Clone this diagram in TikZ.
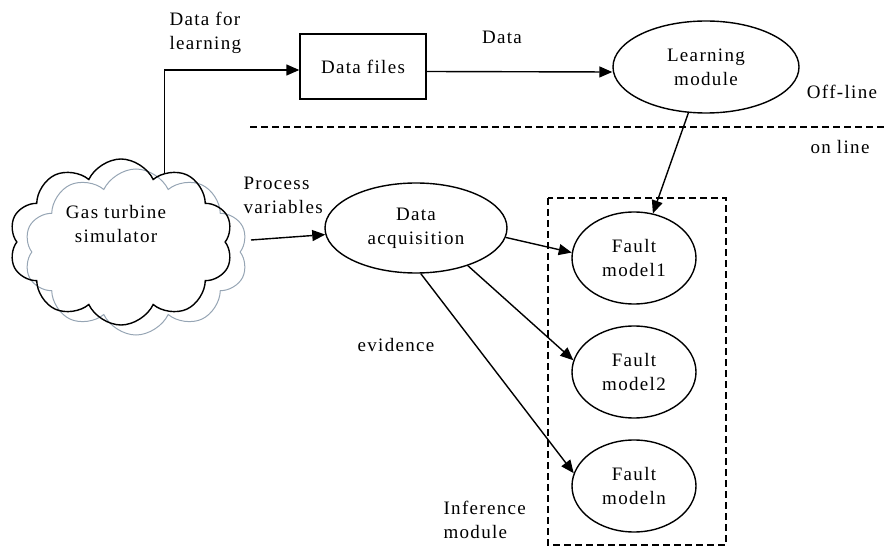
\documentclass[tikz,border=0pt]{standalone}
\usepackage{fontspec}
\setmainfont{Liberation Serif}[LetterSpace=7]
\usetikzlibrary{shapes.geometric,shapes.symbols,arrows.meta}
\definecolor{cloudgrey}{RGB}{150,165,180}

\begin{document}
\begin{tikzpicture}[x=1pt,y=-1pt,
  every node/.style={font=\fontsize{19}{24}\selectfont, align=center},
  oval/.style={ellipse, draw, line width=1.4pt, inner sep=0pt},
  puff/.style={cloud, cloud puffs=10, cloud puff arc=130, aspect=1.5, inner sep=0pt,
    minimum width=224pt, minimum height=166pt},
  arr/.style={-{Triangle[length=13pt,width=11pt]}, line width=1.4pt},
  dash line/.style={dash pattern=on 7pt off 4pt, line width=1.2pt}]
  \useasboundingbox (0,0) rectangle (887,548);

  % simulator
  \node[puff, draw=cloudgrey, line width=1pt] (simback) at (136,252) {};
  \node[puff, draw, line width=1.4pt] (sim) at (121,242) {};
  \node (simtext) at (116,224) {Gas turbine\\simulator};

  % off-line part
  \node[draw, line width=1.4pt, minimum width=126pt, minimum height=65pt] (files) at (363,66.5) {Data files};
  \node[oval, minimum width=186pt, minimum height=92pt] (learn) at (706,67) {Learning\\module};

  % on-line part
  \node[oval, minimum width=182pt, minimum height=90pt] (acq) at (416,228) {Data\\acquisition};
  \node[oval, minimum width=124pt, minimum height=92pt] (fm1) at (634,258) {Fault\\model1};
  \node[oval, minimum width=124pt, minimum height=92pt] (fm2) at (634,372) {Fault\\model2};
  \node[oval, minimum width=124pt, minimum height=92pt] (fmn) at (634,486) {Fault\\modeln};
  \draw[dash line] (548,198) rectangle (726,545);
  \draw[dash line] (250,127) -- (887,127);

  % labels
  \node[anchor=west, align=left] (lbllearn) at (166,33) {Data for\\learning};
  \node (lbldata) at (502,37) {Data};
  \node (lbloff) at (842,92) {Off-line};
  \node (lblon) at (840,147) {on line};
  \node[anchor=west, align=left] (lblproc) at (240,195) {Process\\variables};
  \node (lblev) at (396,345) {evidence};
  \node[anchor=west, align=left] (lblinf) at (440,520) {Inference\\module};

  % connectors
  \coordinate (pv) at (251,240);
  \draw[arr] (sim.58) |- ([yshift=-3.5pt]files.west);
  \draw[arr] ([yshift=-5pt]files.east) -- ([yshift=-5pt]learn.west);
  \draw[arr] (learn.-111) -- (fm1.67);
  \draw[arr] (pv) -- (acq);
  \draw[arr] (acq.-6) -- (fm1.175);
  \draw[arr] (acq.-36) -- (fm2.169);
  \draw[arr] (acq.-84) -- (fmn.168);
\end{tikzpicture}
\end{document}
